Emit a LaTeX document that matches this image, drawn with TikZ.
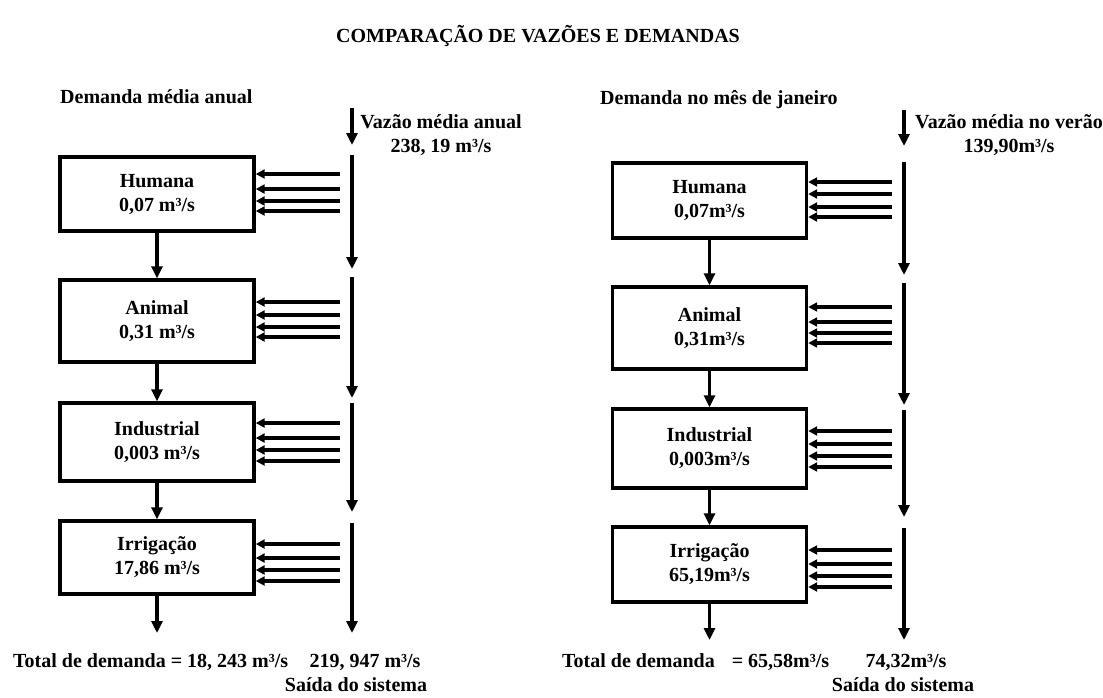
\documentclass[tikz,border=0pt]{standalone}
\usepackage{fontspec}
\setmainfont{Liberation Serif}
\usetikzlibrary{arrows.meta}
\begin{document}
\begin{tikzpicture}[x=1pt,y=-1pt,
  every node/.style={font=\fontsize{20}{24}\selectfont\bfseries, inner sep=0pt},
  demand/.style={draw, line width=3.4pt, minimum width=194pt, align=center},
  flow/.style={line width=3.4pt, -{Triangle[length=12pt,width=11pt]}},
  harr/.style={line width=3.2pt, -{Triangle[length=9pt,width=9pt]}},
  lbl/.style={align=center}]
\useasboundingbox (0,0) rectangle (1103,697);
\fill[white] (0,0) rectangle (1103,697);

\node (title) at (538,36) {COMPARAÇÃO DE VAZÕES E DEMANDAS};

% ---------- left ----------
\node[anchor=west] (lt) at (60,97) {Demanda média anual};
\node[lbl] (lv) at (441,135) {Vazão média anual\\238, 19 m³/s};

\node[demand, minimum height=74pt] (h1) at (157,194) {Humana\\0,07 m³/s};
\node[demand, minimum height=82pt] (a1) at (157,321) {Animal\\0,31 m³/s};
\node[demand, minimum height=78pt] (i1) at (157,442) {Industrial\\0,003 m³/s};
\node[demand, minimum height=73pt] (r1) at (157,557.5) {Irrigação\\17,86 m³/s};

\coordinate (l0a) at (352,108); \coordinate (l0b) at (352,145);
\coordinate (l1a) at (352,155); \coordinate (l1b) at (352,269);
\coordinate (l2a) at (352,277); \coordinate (l2b) at (352,398);
\coordinate (l3a) at (352,403); \coordinate (l3b) at (352,512);
\coordinate (l4a) at (352,523); \coordinate (l4b) at (352,633);
\foreach \s in {0,1,2,3,4} \draw[flow] (l\s a) -- (l\s b);

\coordinate (ld) at (157,633);
\draw[flow] (h1.south) -- (a1.north);
\draw[flow] (a1.south) -- (i1.north);
\draw[flow] (i1.south) -- (r1.north);
\draw[flow] (r1.south) -- (ld);

\foreach \y in {174,189,201,211} \draw[harr] (340,\y) -- (h1.east |- 0,\y);
\foreach \y in {302,315,327,337} \draw[harr] (340,\y) -- (a1.east |- 0,\y);
\foreach \y in {423,438,450,461} \draw[harr] (340,\y) -- (i1.east |- 0,\y);
\foreach \y in {544,558,570,581} \draw[harr] (340,\y) -- (r1.east |- 0,\y);

\node[anchor=west] (ltot) at (13,662) {Total de demanda = 18, 243 m³/s};
\node (lout) at (365,662) {219, 947 m³/s};
\node (lsai) at (356,685) {Saída do sistema};

% ---------- right ----------
\node[anchor=west] (rt) at (600,100) {Demanda no mês de janeiro};
\node[lbl] (rv) at (1009,135.5) {Vazão média no verão\\139,90m³/s};

\node[demand, minimum height=75pt] (h2) at (709.5,200.5) {Humana\\0,07m³/s};
\node[demand, minimum height=82pt] (a2) at (709.5,328) {Animal\\0,31m³/s};
\node[demand, minimum height=79pt] (i2) at (709.5,448.5) {Industrial\\0,003m³/s};
\node[demand, minimum height=75pt] (r2) at (709.5,564.5) {Irrigação\\65,19m³/s};

\coordinate (r0a) at (904,110); \coordinate (r0b) at (904,146);
\coordinate (r1a) at (904,162); \coordinate (r1b) at (904,275);
\coordinate (r2a) at (904,283); \coordinate (r2b) at (904,405);
\coordinate (r3a) at (904,410); \coordinate (r3b) at (904,517);
\coordinate (r4a) at (904,528); \coordinate (r4b) at (904,640);
\foreach \s in {0,1,2,3,4} \draw[flow] (r\s a) -- (r\s b);

\coordinate (rd) at (709.5,640);
\draw[flow] (h2.south) -- (a2.north);
\draw[flow] (a2.south) -- (i2.north);
\draw[flow] (i2.south) -- (r2.north);
\draw[flow] (r2.south) -- (rd);

\foreach \y in {182,194,207,217} \draw[harr] (892,\y) -- (h2.east |- 0,\y);
\foreach \y in {307,322,333,343} \draw[harr] (892,\y) -- (a2.east |- 0,\y);
\foreach \y in {431,444,456,467} \draw[harr] (892,\y) -- (i2.east |- 0,\y);
\foreach \y in {550,564,576,587} \draw[harr] (892,\y) -- (r2.east |- 0,\y);

\node[anchor=west] (rtot) at (562,662) {Total de demanda\hspace{0.6em} = 65,58m³/s};
\node (rout) at (906,662) {74,32m³/s};
\node (rsai) at (903,685) {Saída do sistema};
\end{tikzpicture}
\end{document}
